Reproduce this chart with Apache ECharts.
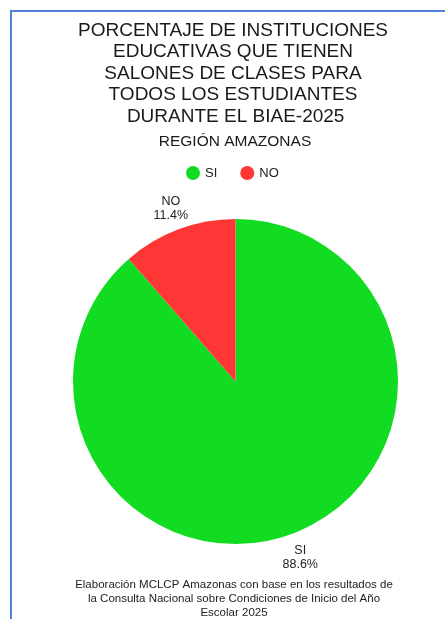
<!DOCTYPE html>
<html>
<head>
<meta charset="utf-8">
<script src="https://cdn.jsdelivr.net/npm/echarts@6/dist/echarts.min.js"></script>
<style>
	html, body { margin: 0; padding: 0; background: #fff; }
	#main { position: absolute; left: 0; top: 0; width: 445px; height: 619px; }
	#frame {
		position: absolute; left: 10px; top: 10px; right: 0; bottom: 0;
		border-left: 2px solid #4f81d9; border-top: 2px solid #4f81d9;
		pointer-events: none;
	}
</style>
</head>
<body>
<div id="main"></div>
<div id="frame"></div>
<script>
const categories = ['SI', 'NO'];
const values = [88.6, 11.4];
const colors = ['#12dc22', '#ff3636'];

const titleText = 'PORCENTAJE DE INSTITUCIONES\nEDUCATIVAS QUE TIENEN\nSALONES DE CLASES PARA\nTODOS LOS ESTUDIANTES\n DURANTE EL BIAE-2025';
const subTitle = 'REGIÓN AMAZONAS';
const footer = 'Elaboración MCLCP Amazonas con base en los resultados de\nla Consulta Nacional sobre Condiciones de Inicio del Año\nEscolar 2025';

const FONT = "'Liberation Sans', Arial, sans-serif";

const myChart = echarts.init(document.getElementById('main'), null, { renderer: 'canvas' });

const option = {
	animation: false,
	color: colors,
	textStyle: { fontFamily: FONT },
	title: [
		{
			text: titleText,
			left: 233, top: 19.5, padding: 0,
			textAlign: 'center',
			textStyle: { fontFamily: FONT, fontSize: 19, fontWeight: 'normal', lineHeight: 21.6, color: '#1a1a1a' }
		},
		{
			text: subTitle,
			left: 235, top: 134, padding: 0,
			textAlign: 'center',
			textStyle: { fontFamily: FONT, fontSize: 15.5, fontWeight: 'normal', color: '#1a1a1a' }
		},
		{
			text: footer,
			left: 234, top: 578, padding: 0,
			textAlign: 'center',
			textStyle: { fontFamily: FONT, fontSize: 11.5, fontWeight: 'normal', lineHeight: 14, color: '#222' }
		}
	],
	legend: {
		data: categories,
		top: 166,
		left: 186,
		padding: 0,
		icon: 'circle',
		itemWidth: 14,
		itemHeight: 14,
		itemGap: 23,
		textStyle: { fontFamily: FONT, fontSize: 13, color: '#222' }
	},
	series: [
		{
			type: 'pie',
			center: [235.5, 381.5],
			radius: 162.5,
			startAngle: 90,
			clockwise: true,
			avoidLabelOverlap: false,
			data: categories.map((c, i) => ({ name: c, value: values[i] })),
			label: {
				show: true,
				position: 'outside',
				formatter: p => p.name + '\n' + p.value.toFixed(1) + '%',
				fontFamily: FONT,
				fontSize: 12.5,
				lineHeight: 14,
				color: '#222'
			},
			labelLine: { show: false, length: 25, length2: -6 },
			// small upward slice label sits a bit lower in the original
			labelLayout: p => ({ align: 'center', verticalAlign: 'middle', dy: p.dataIndex === 1 ? 3 : 0 }),
			itemStyle: { borderWidth: 0 },
			emphasis: { disabled: true }
		}
	]
};

myChart.setOption(option);
</script>
</body>
</html>
